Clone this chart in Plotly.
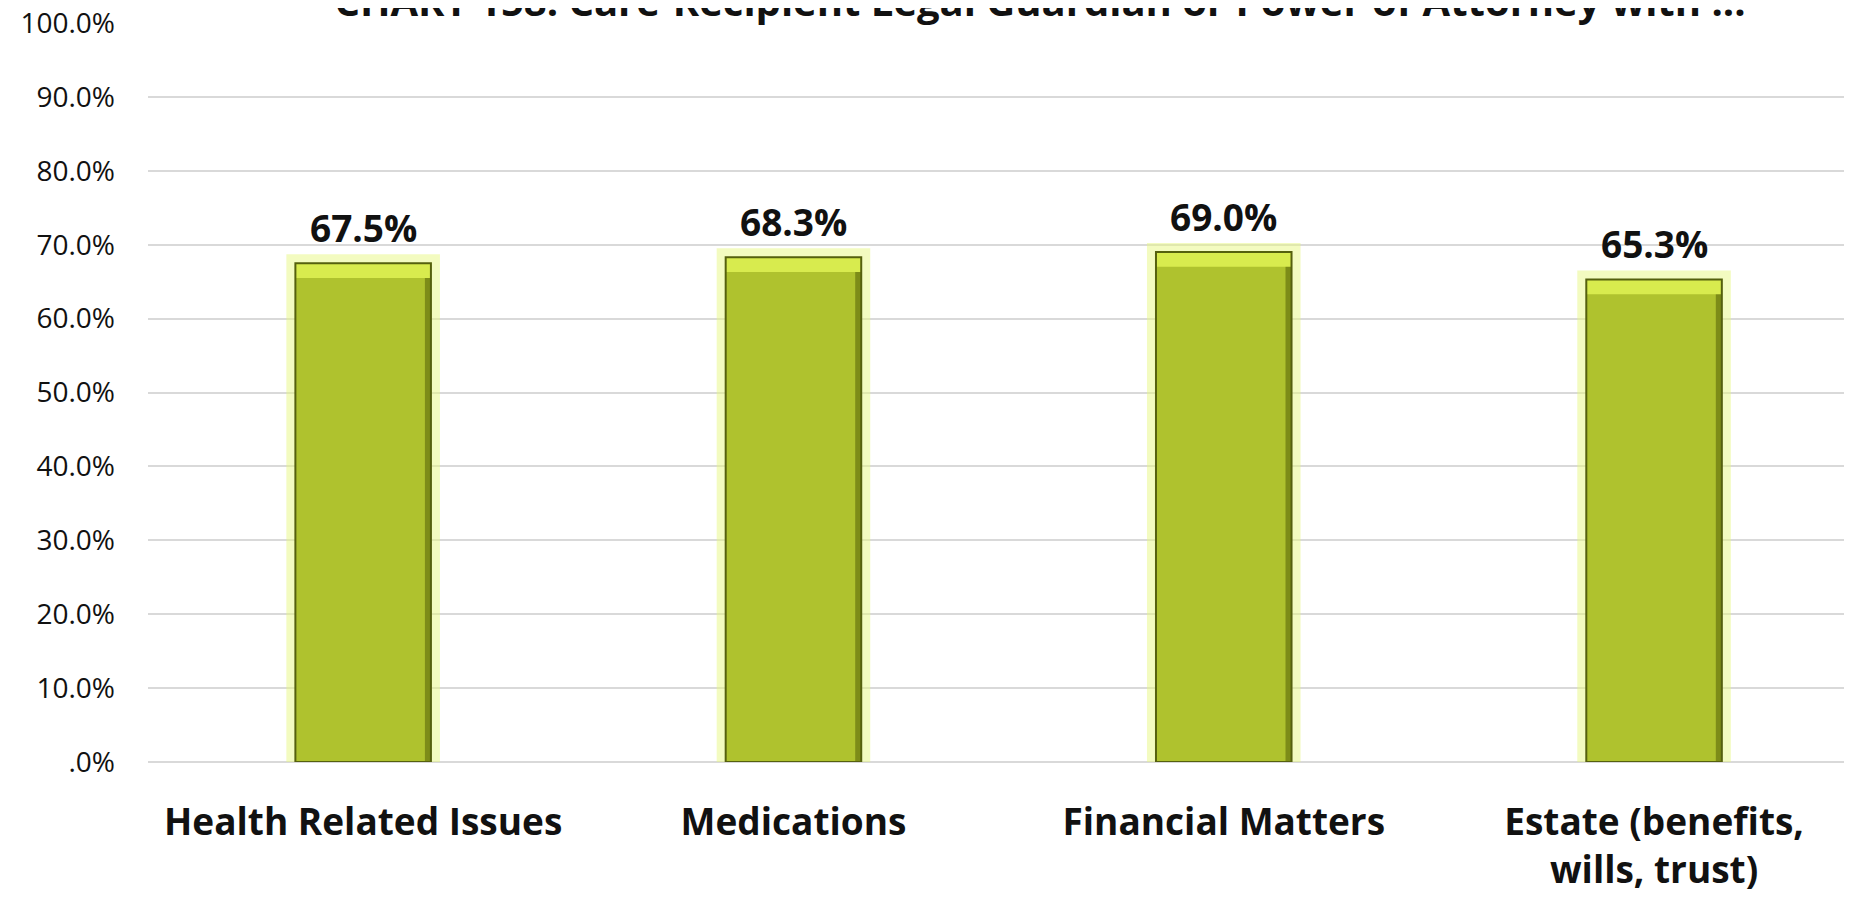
import plotly.graph_objects as go

categories = ["Health Related Issues", "Medications", "Financial Matters", "Estate (benefits,<br>wills, trust)"]
values = [0.675, 0.683, 0.690, 0.653]
value_labels = ["67.5%", "68.3%", "69.0%", "65.3%"]
tick_vals = [0, 0.1, 0.2, 0.3, 0.4, 0.5, 0.6, 0.7, 0.8, 0.9, 1.0]
tick_text = [".0%", "10.0%", "20.0%", "30.0%", "40.0%", "50.0%", "60.0%", "70.0%", "80.0%", "90.0%", "100.0%"]
title_text = "CHART 158: Care-Recipient Legal Guardian or Power of Attorney with ..."

x = list(range(len(categories)))
bar_w = 0.315
bevel = 0.02   # depth of lighter top bevel band (axis units)
edge_w = 0.014  # width of darker right-edge shading (category units)

fig = go.Figure()
# glow behind bars
fig.add_trace(go.Bar(
    x=x, y=values, width=bar_w,
    marker=dict(color="rgba(226,245,110,0.6)", line=dict(color="rgba(232,248,130,0.5)", width=18)),
    hoverinfo="skip", showlegend=False,
))
# main bar fill
fig.add_trace(go.Bar(
    x=x, y=values, width=bar_w,
    marker=dict(color="#AFC22E", line=dict(width=0)),
    showlegend=False,
))
# darker right edge shading
fig.add_trace(go.Bar(
    x=x, y=values, width=edge_w, offset=bar_w / 2 - edge_w,
    marker=dict(color="#7D8C18", line=dict(width=0)),
    hoverinfo="skip", showlegend=False,
))
# lighter top bevel band
fig.add_trace(go.Bar(
    x=x, y=[bevel] * len(values), base=[v - bevel for v in values], width=bar_w,
    marker=dict(color="#D8EB4E", line=dict(width=0)),
    hoverinfo="skip", showlegend=False,
))
# outline
fig.add_trace(go.Bar(
    x=x, y=values, width=bar_w,
    marker=dict(color="rgba(0,0,0,0)", line=dict(color="#55600E", width=2)),
    hoverinfo="skip", showlegend=False,
))

for xi, v, t in zip(x, values, value_labels):
    fig.add_annotation(x=xi, y=v, text=t, showarrow=False, yanchor="middle", yshift=36,
                       font=dict(family="Open Sans", size=37, color="#111111", weight="bold"))

fig.update_layout(
    width=1852, height=900,
    paper_bgcolor="white", plot_bgcolor="white",
    barmode="overlay",
    margin=dict(l=140, r=8, t=15, b=146, autoexpand=False),
    title=dict(text=title_text, x=1032 / 1852, xanchor="center", xref="container",
               y=(900 - 8) / 900, yanchor="bottom", yref="container",
               font=dict(family="Open Sans", size=40, color="#111111", weight="bold")),
    xaxis=dict(range=[-0.5, 3.46], tickvals=x, ticktext=categories, showgrid=False,
               tickfont=dict(family="Open Sans", size=37, color="#111111", weight="bold"),
               ticks="", ticklabelstandoff=35, showline=False, zeroline=False, automargin=False),
    yaxis=dict(range=[0, 1.0], tickvals=tick_vals, ticktext=tick_text,
               showgrid=True, gridcolor="#D9D9D9", gridwidth=2,
               zeroline=True, zerolinecolor="#D9D9D9", zerolinewidth=2,
               tickfont=dict(family="Open Sans", size=28, color="#111111"),
               ticklabeloverflow="allow",
               ticks="", ticklabelstandoff=32, showline=False, automargin=False),
)

fig.write_html("out.html")
